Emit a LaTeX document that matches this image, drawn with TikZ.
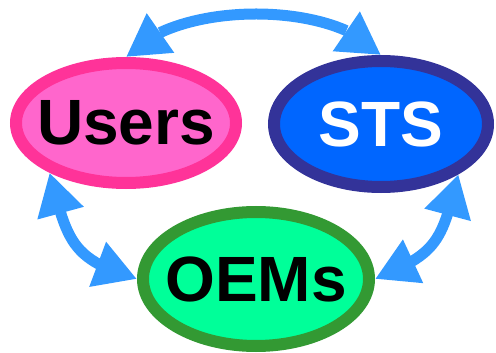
\documentclass[tikz,border=0pt]{standalone}
\usepackage{fontspec}
\setmainfont{Liberation Sans}
\usetikzlibrary{calc, positioning, arrows.meta, shapes.geometric, bending}
\definecolor{userPink}{HTML}{FF66CC}
\definecolor{userRim}{HTML}{FF3399}
\definecolor{stsBlue}{HTML}{0066FF}
\definecolor{stsRim}{HTML}{333399}
\definecolor{oemGreen}{HTML}{00FF99}
\definecolor{oemRim}{HTML}{339933}
\definecolor{linkBlue}{HTML}{3399FF}
\tikzset{
  party/.style = {ellipse, line width=12pt, inner sep=0pt,
                  font=\fontsize{64}{64}\selectfont\bfseries},
  users/.style = {party, draw=userRim, fill=userPink, text=black},
  sts/.style   = {party, draw=stsRim, fill=stsBlue, text=white},
  oems/.style  = {party, draw=oemRim, fill=oemGreen, text=black},
  link/.style  = {>={Triangle[length=42pt, width=45pt, flex]}, <->,
                  draw=linkBlue, line width=11pt}
}

\begin{document}
\begin{tikzpicture}[x=1pt, y=-1pt]
  \useasboundingbox (0,0) rectangle (496,353);

  \node[users, minimum width=220pt, minimum height=120pt] (u) at (126,123) {\makebox[0pt]{Users}};
  \node[sts, minimum width=214pt, minimum height=126pt] (s) at (381,124) {\makebox[0pt]{STS}};
  \node[oems, minimum width=226pt, minimum height=134pt] (o) at (256,279) {\makebox[0pt]{OEMs}};

  \draw[link] (u.north) .. controls +(49,-57) and +(-46,-55) .. (s.north);
  \draw[link] (u.213) .. controls +(18,68) and +(-67,-20) .. (o.west);
  \draw[link] (s.327) .. controls +(-17,68) and +(63,-26) .. (o.east);
\end{tikzpicture}
\end{document}
